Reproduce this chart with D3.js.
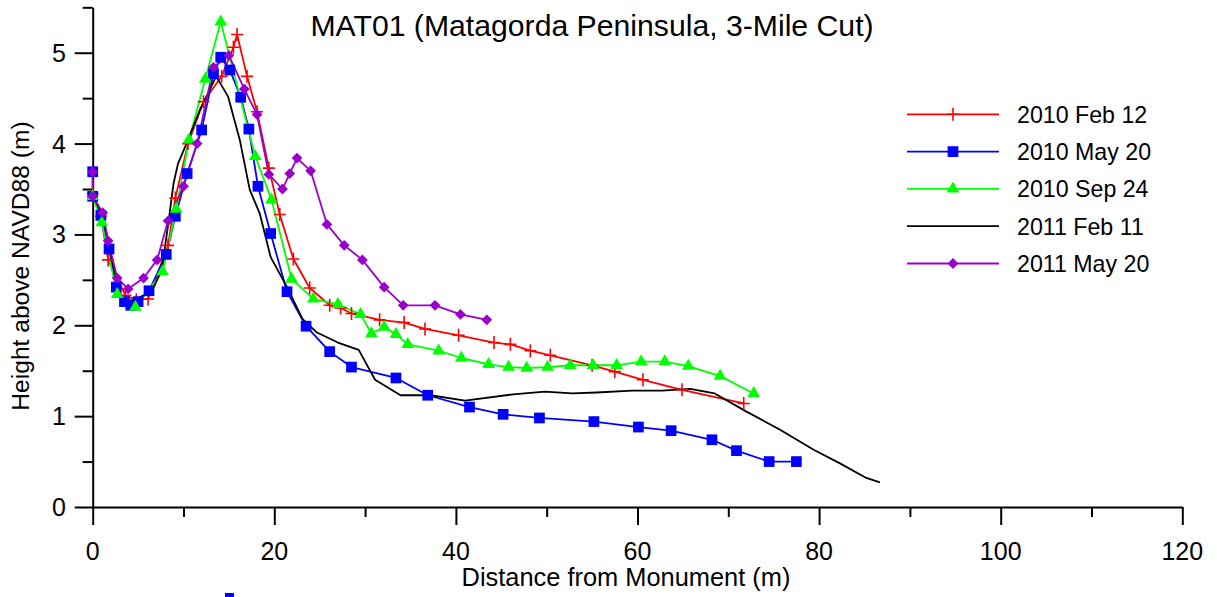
<!DOCTYPE html>
<html>
<head>
<meta charset="utf-8">
<script src="https://cdn.jsdelivr.net/npm/d3@7"></script>
<style>
  html, body { margin: 0; padding: 0; background: #fff; }
  svg { display: block; }
  text { font-family: "Liberation Sans", Arial, sans-serif; fill: #000; }
</style>
</head>
<body>
<svg id="chart" width="1217" height="597"></svg>
<script>
// ---------- data ----------
const title = "MAT01 (Matagorda Peninsula, 3-Mile Cut)";
const xLabel = "Distance from Monument (m)";
const yLabel = "Height above NAVD88 (m)";
const xTicks = [0, 20, 40, 60, 80, 100, 120];
const yTicks = [0, 1, 2, 3, 4, 5];
const seriesNames = ["2010 Feb 12", "2010 May 20", "2010 Sep 24", "2011 Feb 11", "2011 May 20"];

const feb2010X = [0, 0.9, 1.7, 3.6, 4.8, 6.1, 8.3, 9.1, 10.5, 12.2, 14.2, 15.5, 15.9, 17.0, 18.1, 19.4, 20.6, 22.1, 23.9, 26.1, 27.3, 28.5, 31.6, 34.3, 36.6, 40.3, 44.2, 46.0, 48.2, 50.4, 55.0, 57.5, 60.6, 64.9, 71.7];
const feb2010Y = [3.45, 3.2, 2.72, 2.33, 2.28, 2.29, 2.88, 3.40, 4.0, 4.46, 4.74, 5.06, 5.20, 4.74, 4.35, 3.73, 3.22, 2.73, 2.41, 2.22, 2.19, 2.13, 2.06, 2.03, 1.96, 1.89, 1.81, 1.79, 1.72, 1.67, 1.56, 1.49, 1.40, 1.29, 1.14];

const may2010X = [0, 0, 0.9, 1.8, 2.6, 3.5, 4.2, 5.0, 6.2, 8.1, 9.1, 10.4, 12.0, 13.3, 14.1, 15.1, 16.3, 17.2, 18.2, 19.6, 21.4, 23.5, 26.1, 28.5, 33.4, 36.9, 41.5, 45.2, 49.2, 55.2, 60.1, 63.7, 68.2, 70.9, 74.5, 77.5];
const may2010Y = [3.69, 3.42, 3.21, 2.84, 2.42, 2.26, 2.22, 2.26, 2.38, 2.78, 3.20, 3.67, 4.15, 4.77, 4.95, 4.81, 4.51, 4.16, 3.53, 3.01, 2.37, 1.99, 1.71, 1.54, 1.42, 1.23, 1.10, 1.02, 0.98, 0.94, 0.88, 0.84, 0.74, 0.62, 0.50, 0.50];

const sep2010X = [0, 1.0, 2.7, 4.7, 7.7, 9.2, 10.6, 12.4, 14.1, 17.9, 19.7, 21.9, 24.3, 27.0, 29.5, 30.7, 32.1, 33.4, 34.7, 38.1, 40.6, 43.6, 45.8, 47.8, 50.1, 52.6, 55.1, 57.7, 60.4, 63.0, 65.6, 69.1, 72.8];
const sep2010Y = [3.42, 3.13, 2.34, 2.20, 2.59, 3.28, 4.04, 4.71, 5.34, 3.86, 3.38, 2.51, 2.29, 2.23, 2.12, 1.91, 1.98, 1.90, 1.79, 1.72, 1.64, 1.57, 1.54, 1.53, 1.54, 1.56, 1.56, 1.56, 1.60, 1.60, 1.55, 1.44, 1.25];

const feb2011X = [0, 1.0, 1.7, 2.6, 3.2, 4.1, 5.2, 6.5, 7.6, 8.3, 8.9, 9.4, 10.5, 11.8, 13.6, 14.9, 16.2, 17.3, 18.4, 19.6, 21.4, 23.1, 24.7, 27.0, 29.3, 30.5, 31.1, 33.9, 37.2, 41.0, 46.3, 49.8, 52.8, 55.5, 59.4, 62.7, 65.8, 68.5, 72.0, 75.7, 79.4, 82.3, 85.2, 86.7];
const feb2011Y = [3.43, 3.23, 2.94, 2.48, 2.31, 2.26, 2.31, 2.37, 2.61, 3.10, 3.56, 3.78, 4.04, 4.37, 4.74, 4.52, 4.04, 3.49, 3.23, 2.75, 2.42, 2.07, 1.92, 1.81, 1.73, 1.51, 1.40, 1.23, 1.23, 1.17, 1.24, 1.27, 1.25, 1.26, 1.28, 1.28, 1.30, 1.25, 1.05, 0.85, 0.63, 0.48, 0.32, 0.27];

const may2011X = [0, 0, 1.1, 1.7, 2.7, 3.9, 5.6, 7.1, 8.3, 10.0, 11.5, 13.3, 15.0, 16.7, 18.1, 19.4, 20.9, 21.7, 22.5, 24.0, 25.8, 27.7, 29.7, 32.1, 34.2, 37.7, 40.5, 43.4];
const may2011Y = [3.69, 3.42, 3.24, 2.93, 2.52, 2.40, 2.52, 2.72, 3.15, 3.53, 4.0, 4.84, 4.97, 4.60, 4.32, 3.66, 3.50, 3.67, 3.84, 3.70, 3.11, 2.88, 2.72, 2.42, 2.22, 2.22, 2.12, 2.06];

const colors = ["#ff0000", "#0000ff", "#00ff00", "#000000", "#9900cc"];
const markers = ["plus", "square", "triangle", "none", "diamond"];

const series = [
  { name: seriesNames[0], xs: feb2010X, ys: feb2010Y },
  { name: seriesNames[1], xs: may2010X, ys: may2010Y },
  { name: seriesNames[2], xs: sep2010X, ys: sep2010Y },
  { name: seriesNames[3], xs: feb2011X, ys: feb2011Y },
  { name: seriesNames[4], xs: may2011X, ys: may2011Y }
].map((s, i) => ({ ...s, color: colors[i], marker: markers[i],
                   pts: s.xs.map((xv, j) => [xv, s.ys[j]]) }));

// ---------- layout ----------
const svg = d3.select("#chart");
const plotLeft = 92.7, plotRight = 1182.3, plotTop = 7.3, plotBottom = 507;
const x = d3.scaleLinear().domain([0, 120]).range([plotLeft, plotRight]);
const y = d3.scaleLinear().domain([0, 5.5]).range([plotBottom, plotTop]);

// x axis
const gx = svg.append("g").attr("transform", `translate(0,${plotBottom})`);
gx.call(d3.axisBottom(x).tickValues(d3.range(0, 121, 10)).tickSizeOuter(0)
  .tickSizeInner(0).tickFormat(""));
gx.select(".domain").attr("stroke", "#000").attr("stroke-width", 2);
gx.selectAll(".tick line").each(function(d) {
  d3.select(this).attr("y2", d % 20 === 0 ? 18 : 10)
    .attr("stroke", "#000").attr("stroke-width", 2);
});
gx.selectAll(".tick text").remove();
svg.append("g").selectAll("text").data(xTicks).enter().append("text")
  .attr("x", d => x(d)).attr("y", 560)
  .attr("text-anchor", "middle").attr("font-size", 25).text(d => d);

// y axis
const gy = svg.append("g").attr("transform", `translate(${plotLeft},0)`);
gy.call(d3.axisLeft(y).tickValues(d3.range(0, 5.51, 0.5)).tickSizeOuter(0)
  .tickSizeInner(0).tickFormat(""));
gy.select(".domain").attr("stroke", "#000").attr("stroke-width", 2);
gy.selectAll(".tick line").each(function(d) {
  const major = Math.abs(d - Math.round(d)) < 1e-6;
  d3.select(this).attr("x2", major ? -18 : -10)
    .attr("stroke", "#000").attr("stroke-width", 2);
});
gy.selectAll(".tick text").remove();
svg.append("g").selectAll("text").data(yTicks).enter().append("text")
  .attr("x", 66).attr("y", d => y(d) + 9)
  .attr("text-anchor", "end").attr("font-size", 25).text(d => d);

// labels
svg.append("text").attr("x", 626).attr("y", 586).attr("text-anchor", "middle")
  .attr("font-size", 25.4).text(xLabel);
svg.append("text").attr("transform", "translate(29,266) rotate(-90)")
  .attr("text-anchor", "middle").attr("font-size", 24.6).text(yLabel);
svg.append("text").attr("x", 592).attr("y", 36).attr("text-anchor", "middle")
  .attr("font-size", 30.2).text(title);

// ---------- markers ----------
function drawMarker(g, type, color) {
  if (type === "plus") {
    g.append("path").attr("d", "M-6,0H6M0,-6.5V6.5")
      .attr("stroke", color).attr("stroke-width", 1.6).attr("fill", "none");
  } else if (type === "square") {
    g.append("path").attr("d", d3.symbol(d3.symbolSquare, 115)())
      .attr("fill", color);
  } else if (type === "triangle") {
    g.append("path").attr("d", d3.symbol(d3.symbolTriangle, 70)())
      .attr("fill", color);
  } else if (type === "diamond") {
    g.append("path").attr("d", d3.symbol(d3.symbolSquare, 58)())
      .attr("transform", "rotate(45)").attr("fill", color);
  }
}

// ---------- series ----------
const line = d3.line().x(d => x(d[0])).y(d => y(d[1]));
const plot = svg.append("g");
series.forEach(s => {
  plot.append("path").datum(s.pts).attr("d", line)
    .attr("fill", "none").attr("stroke", s.color).attr("stroke-width", 1.8)
    .attr("stroke-linejoin", "round");
});
series.forEach(s => {
  if (s.marker === "none") return;
  plot.append("g").selectAll("g").data(s.pts).enter().append("g")
    .attr("transform", d => `translate(${x(d[0])},${y(d[1])})`)
    .each(function() { drawMarker(d3.select(this), s.marker, s.color); });
});

// ---------- legend ----------
const leg = svg.append("g");
series.forEach((s, i) => {
  const ry = 114.3 + i * 37.3;
  leg.append("line").attr("x1", 907).attr("x2", 999).attr("y1", ry).attr("y2", ry)
    .attr("stroke", s.color).attr("stroke-width", 1.8);
  if (s.marker !== "none") {
    const g = leg.append("g").attr("transform", `translate(953,${ry})`);
    drawMarker(g, s.marker, s.color);
  }
  leg.append("text").attr("x", 1017).attr("y", ry + 8.5).attr("font-size", 23.2).text(s.name);
});

// small stray blue mark near the bottom of the reference
svg.append("rect").attr("x", 225).attr("y", 593).attr("width", 9).attr("height", 4)
  .attr("fill", "#0000ff");
</script>
</body>
</html>
